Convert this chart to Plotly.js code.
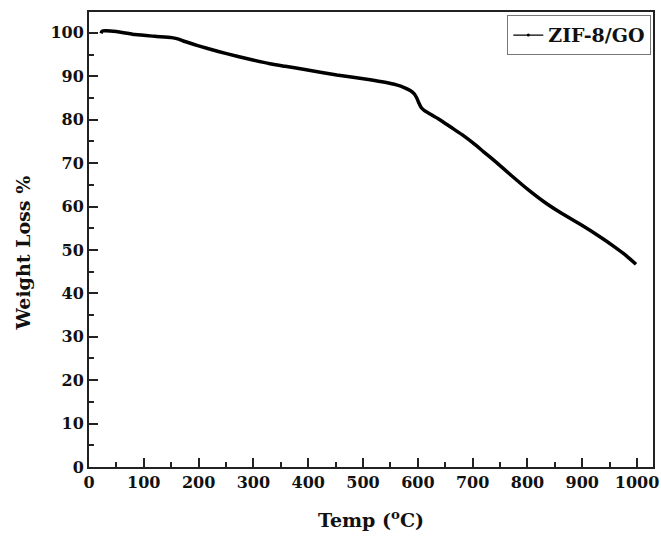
<!DOCTYPE html>
<html>
<head>
<meta charset="utf-8">
<script src="https://cdn.plot.ly/plotly-3.0.1.min.js"></script>
<style>html,body{margin:0;padding:0;background:#fff;}#chart{width:661px;height:539px;}</style>
</head>
<body>
<div id="chart"></div>
<script>
const seriesName = "ZIF-8/GO";
const temp = [22, 24, 30, 50, 84, 120, 151, 165, 175, 200, 236, 270, 297, 330, 358, 391, 452, 513, 540, 561, 575, 586, 593, 598, 602, 606, 612, 620, 640, 660, 680, 700, 720, 740, 770, 800, 830, 860, 900, 930, 960, 980, 998];
const weight = [99.9, 100.4, 100.5, 100.3, 99.6, 99.2, 98.9, 98.5, 98.0, 97.0, 95.7, 94.6, 93.8, 92.9, 92.3, 91.6, 90.3, 89.2, 88.6, 88.0, 87.4, 86.7, 86.0, 85.0, 83.8, 82.8, 82.1, 81.5, 80.0, 78.3, 76.6, 74.7, 72.6, 70.5, 67.2, 64.0, 61.1, 58.6, 55.6, 53.2, 50.6, 48.7, 46.7];
const xTicks = [0, 100, 200, 300, 400, 500, 600, 700, 800, 900, 1000];
const yTicks = [0, 10, 20, 30, 40, 50, 60, 70, 80, 90, 100];

const fontFam = "DejaVu Serif, serif";
const traces = [
  {x: temp, y: weight, mode: "lines", line: {color: "#000", width: 3.5, shape: "spline", smoothing: 0.6}, showlegend: false, hoverinfo: "skip"},
  {x: [null], y: [null], mode: "lines+markers", name: seriesName, line: {color: "#000", width: 1.2}, marker: {color: "#000", size: 3}, showlegend: true}
];
const axisCommon = {
  showline: true, linecolor: "#222", linewidth: 2, mirror: true,
  ticks: "inside", ticklen: 9, tickwidth: 2, tickcolor: "#222",
  showgrid: false, zeroline: false,
  tickfont: {family: fontFam, size: 16, color: "#111", weight: "bold"}
};
const layout = {
  width: 661, height: 539,
  margin: {l: 89, r: 8, t: 12, b: 72},
  paper_bgcolor: "#fff", plot_bgcolor: "#fff",
  font: {family: fontFam, color: "#111"},
  xaxis: Object.assign({}, axisCommon, {
    range: [0, 1029], tickvals: xTicks, ticktext: xTicks.map(String),
    minor: {dtick: 50, tick0: 0, ticks: "inside", ticklen: 5, tickwidth: 2, tickcolor: "#222"},
    title: {text: "Temp (<sup>o</sup>C)", font: {family: fontFam, size: 19, weight: "bold", color: "#111"}, standoff: 22}
  }),
  yaxis: Object.assign({}, axisCommon, {
    range: [0, 104.8], tickvals: yTicks, ticktext: yTicks.map(String),
    minor: {dtick: 5, tick0: 0, ticks: "inside", ticklen: 5, tickwidth: 2, tickcolor: "#222"}
  }),
  annotations: [{
    text: "Weight Loss %", textangle: -90, showarrow: false,
    xref: "paper", yref: "paper", x: 0, y: 0.5, xanchor: "center", yanchor: "middle",
    xshift: -67, yshift: -14,
    font: {family: fontFam, size: 19, weight: "bold", color: "#111"}
  }],
  legend: {
    x: 0.997, xanchor: "right", y: 0.993, yanchor: "top",
    bordercolor: "#777", borderwidth: 1, bgcolor: "#fff",
    font: {family: fontFam, size: 19, weight: "bold", color: "#111"},
    itemwidth: 30, tracegroupgap: 0
  }
};
Plotly.newPlot("chart", traces, layout, {displayModeBar: false, staticPlot: true});
</script>
</body>
</html>
